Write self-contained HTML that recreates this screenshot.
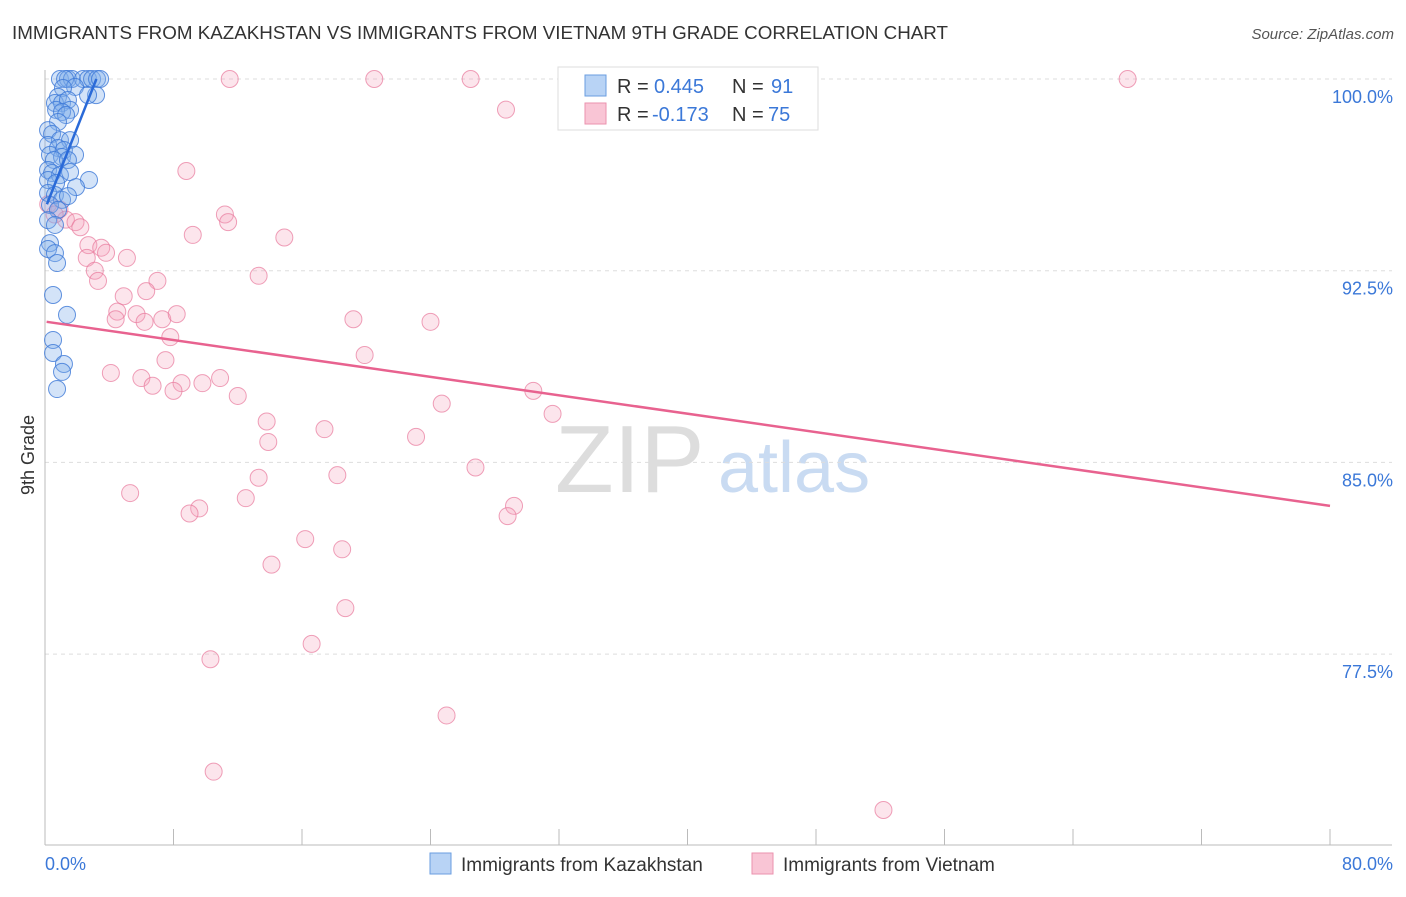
<!DOCTYPE html>
<html><head><meta charset="utf-8"><style>
body{margin:0;background:#fff;font-family:"Liberation Sans",sans-serif;}
svg text{font-family:"Liberation Sans",sans-serif;}
</style></head><body>
<svg id="chart" width="1406" height="892">
<text x="12" y="39" font-size="18.8" fill="#333">IMMIGRANTS FROM KAZAKHSTAN VS IMMIGRANTS FROM VIETNAM 9TH GRADE CORRELATION CHART</text>
<text x="1394" y="39" font-size="15" fill="#555" text-anchor="end" font-style="italic">Source: ZipAtlas.com</text>
<text x="555" y="492" font-size="96" fill="#ddd" font-family="Liberation Serif">ZIP</text>
<text x="718" y="492" font-size="72" fill="#c9dbf2">atlas</text>
<g id="grid"></g><g id="axes"></g><g id="pts"></g><g id="lines"></g>
<text x="34" y="455" font-size="18" fill="#333" transform="rotate(-90 34 455)" text-anchor="middle">9th Grade</text>
<g>
<rect x="558" y="67" width="260" height="63" fill="#fff" stroke="#ddd"/>
<rect x="585" y="75" width="21" height="21" fill="#b8d3f5" stroke="#6a9ee0"/>
<rect x="585" y="103" width="21" height="21" fill="#f9c5d5" stroke="#eb92ae"/>
<text x="617" y="93" font-size="20" fill="#333">R =</text>
<text x="654" y="93" font-size="20" fill="#3b78d8">0.445</text>
<text x="732" y="93" font-size="20" fill="#333">N =</text>
<text x="771" y="93" font-size="20" fill="#3b78d8">91</text>
<text x="617" y="121" font-size="20" fill="#333">R =</text>
<text x="652" y="121" font-size="20" fill="#3b78d8">-0.173</text>
<text x="732" y="121" font-size="20" fill="#333">N =</text>
<text x="768" y="121" font-size="20" fill="#3b78d8">75</text>
</g>
<g>
<rect x="430" y="853" width="21" height="21" fill="#b8d3f5" stroke="#6a9ee0"/>
<text x="461" y="871" font-size="19" fill="#333">Immigrants from Kazakhstan</text>
<rect x="752" y="853" width="21" height="21" fill="#f9c5d5" stroke="#eb92ae"/>
<text x="783" y="871" font-size="19" fill="#333">Immigrants from Vietnam</text>
</g>
</svg>
<script>
const blueX=[0.93,1.43,1.68,2.37,2.68,2.93,3.24,3.43,1.25,1.87,1.12,3.18,2.68,0.81,0.62,1.06,1.43,1.56,0.69,1.06,1.31,0.81,0.19,0.44,0.93,1.56,0.19,0.81,1.18,0.31,1.06,1.87,0.56,1.43,0.19,0.44,0.93,1.56,0.19,0.69,2.74,1.93,0.19,0.62,1.06,1.43,0.31,0.81,0.19,0.62,0.31,0.19,0.62,0.75,0.5,1.37,0.5,0.5,1.18,1.06,0.75];
const blueY=[100,100,100,100,100,100,100,100,100,99.69,99.65,99.37,99.37,99.3,99.06,99.06,99.18,98.79,98.79,98.71,98.59,98.32,98.0,97.85,97.61,97.61,97.42,97.3,97.22,97.03,96.95,97.03,96.83,96.83,96.44,96.32,96.24,96.36,96.05,95.93,96.05,95.77,95.54,95.46,95.27,95.42,95.07,94.88,94.48,94.29,93.58,93.35,93.19,92.8,91.55,90.77,89.79,89.28,88.85,88.54,87.87];
const pinkX=[11.5,20.5,26.5,43.1,67.4,28.7,8.8,11.2,11.4,9.2,14.9,0.9,1.3,1.9,2.2,2.7,3.5,3.8,2.6,5.1,13.3,3.1,3.3,7.0,6.3,4.9,4.5,5.7,4.4,6.2,7.3,8.2,19.2,24.0,7.8,19.9,7.5,4.1,6.0,6.7,8.5,8.0,9.8,10.9,12.0,30.4,24.7,31.6,13.8,13.9,17.4,23.1,26.8,18.2,13.3,5.3,12.5,9.6,9.0,29.2,28.8,16.2,18.5,14.1,18.7,16.6,10.3,25.0,10.5,52.2,0.2,0.6];
const pinkY=[100,100,100,100,100,98.8,96.4,94.7,94.4,93.9,93.8,94.9,94.5,94.4,94.2,93.5,93.4,93.2,93.0,93.0,92.3,92.5,92.1,92.1,91.7,91.5,90.9,90.8,90.6,90.5,90.6,90.8,90.6,90.5,89.9,89.2,89.0,88.5,88.3,88.0,88.1,87.8,88.1,88.3,87.6,87.8,87.3,86.9,86.6,85.8,86.3,86.0,84.8,84.5,84.4,83.8,83.6,83.2,83.0,83.3,82.9,82.0,81.6,81.0,79.3,77.9,77.3,75.1,72.9,71.4,95.1,94.7];
const yTicks=[100,92.5,85,77.5];
const yTickLabels=["100.0%","92.5%","85.0%","77.5%"];
const blueTrend=[[0.12,95.1],[3.2,100]];
const pinkTrend=[[0.1,90.5],[80,83.3]];
const NS="http://www.w3.org/2000/svg";
const X=v=>45+v/80*1285, Y=v=>79+(100-v)/7.5*191.7;
function mk(t,a,p){const e=document.createElementNS(NS,t);for(const k in a)e.setAttribute(k,a[k]);p.appendChild(e);return e;}
const grid=document.getElementById('grid'),axes=document.getElementById('axes');
yTicks.forEach((t,i)=>{
 const l=mk('line',{x1:45,x2:1392,y1:Y(t),y2:Y(t),stroke:'#ddd','stroke-dasharray':'4,4'},grid);
 
 
 const tx=mk('text',{x:1393,y:Y(t)+24,'font-size':18,fill:'#3b78d8','text-anchor':'end'},axes);
 tx.textContent=yTickLabels[i];
 
 
});
mk('line',{x1:45,x2:45,y1:70,y2:845,stroke:'#bbb'},axes);
mk('line',{x1:45,x2:1392,y1:845,y2:845,stroke:'#bbb'},axes);
for(let i=0;i<=10;i++){const x=X(i*8);mk('line',{x1:x,x2:x,y1:829,y2:845,stroke:'#bbb'},axes);}
let t=mk('text',{x:45,y:870,'font-size':18,fill:'#3b78d8'},axes);t.textContent='0.0%';


t=mk('text',{x:1393,y:870,'font-size':18,fill:'#3b78d8','text-anchor':'end'},axes);t.textContent='80.0%';


const pts=document.getElementById('pts');
pinkX.forEach((v,i)=>{const c=mk('circle',{cx:X(v),cy:Y(pinkY[i]),r:8.5,fill:'rgba(244,160,188,0.28)',stroke:'rgba(232,120,155,0.7)','stroke-width':1},pts);
 
 });
blueX.forEach((v,i)=>{const c=mk('circle',{cx:X(v),cy:Y(blueY[i]),r:8.5,fill:'rgba(130,175,235,0.35)',stroke:'rgba(60,120,215,0.8)','stroke-width':1},pts);
 
 });
const lines=document.getElementById('lines');
let l=mk('line',{x1:X(pinkTrend[0][0]),y1:Y(pinkTrend[0][1]),x2:X(pinkTrend[1][0]),y2:Y(pinkTrend[1][1]),stroke:'#e8628f','stroke-width':2.5},lines);


l=mk('line',{x1:X(blueTrend[0][0]),y1:Y(blueTrend[0][1]),x2:X(blueTrend[1][0]),y2:Y(blueTrend[1][1]),stroke:'#2a6ad8','stroke-width':2.5},lines);


</script>
</body></html>
